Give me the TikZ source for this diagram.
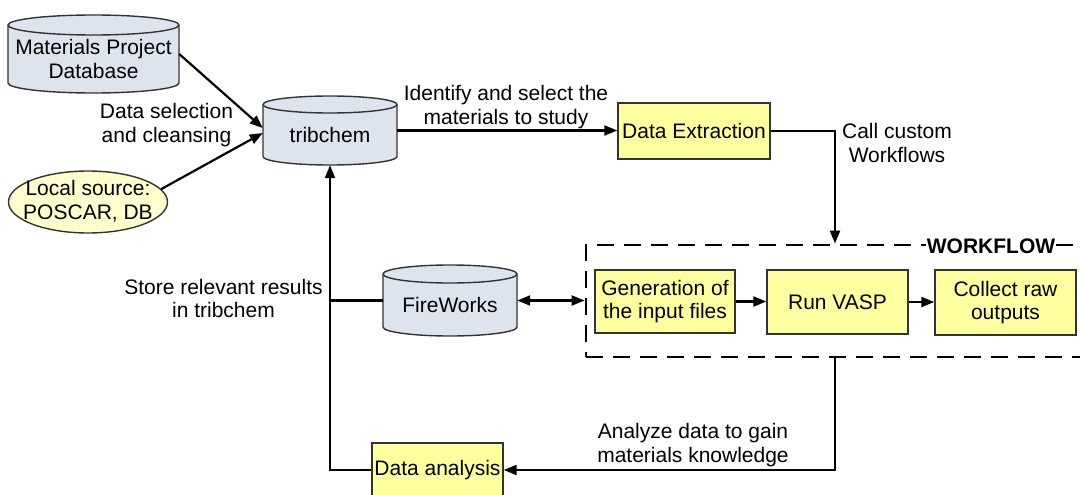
\documentclass[tikz,border=0pt]{standalone}
\usepackage{fontspec}
\setmainfont{Liberation Sans}
\usetikzlibrary{arrows.meta,shapes.geometric,calc}
\definecolor{cylfill}{HTML}{DDE4EE}
\definecolor{boxfill}{HTML}{FFFF9F}
\definecolor{ellfill}{HTML}{FFFFCC}
\definecolor{edgecol}{HTML}{333333}
\tikzset{
  x=1pt, y=1pt,
  every node/.style={font=\fontsize{21}{23.5}\selectfont, text=black},
  yellowbox/.style={draw=edgecol, line width=1.4pt, fill=boxfill, inner sep=0pt, align=center},
  cylbody/.style={draw=edgecol, line width=1.4pt, fill=cylfill},
  cylanchor/.style={inner sep=0pt, draw=none},
  conn/.style={line width=2.2pt, black},
  arr/.style={conn, -{Triangle[length=13pt,width=10pt]}},
  darr/.style={conn, {Triangle[length=13pt,width=10pt]}-{Triangle[length=13pt,width=10pt]}},
  lbl/.style={align=center, inner sep=0pt},
}
% name, cx, cy (pixels down), half width, half height, ellipse radius, text, text shift
\newcommand{\mycyl}[8]{%
  \path[cylbody] ({#2-#4},{-#3+#5-#6}) -- ({#2-#4},{-#3-#5+#6})
     arc[start angle=180, end angle=360, x radius=#4, y radius=#6]
     -- ({#2+#4},{-#3+#5-#6})
     arc[start angle=0, end angle=180, x radius=#4, y radius=#6] -- cycle;
  \draw[edgecol, line width=1.4pt] ({#2-#4},{-#3+#5-#6})
     arc[start angle=180, end angle=360, x radius=#4, y radius=#6];
  \node[cylanchor, minimum width={2*#4}, minimum height={2*#5}] (#1) at (#2,-#3) {};
  \node[lbl] (#1-text) at ({#2},{-#3-#8}) {#7};
}
\begin{document}
\begin{tikzpicture}
\useasboundingbox (0,0) rectangle (1080,-495);

% cylinders
\mycyl{mp}{93.5}{54}{85.5}{39}{10}{Materials Project\\Database}{5}
\mycyl{trib}{330}{130.5}{67}{34.5}{8.5}{tribchem}{4.5}
\mycyl{fw}{450}{300.5}{67}{35.5}{9}{FireWorks}{4.5}

% local source
\node[ellipse, draw=edgecol, line width=1.4pt, fill=ellfill, minimum width=159pt,
      minimum height=62pt, inner sep=0pt] (local) at (88,-202) {};
\node[lbl] (local-text) at (88,-201) {Local source:\\POSCAR, DB};

% yellow boxes
\node[yellowbox, minimum width=152pt, minimum height=56pt] (dext) at (694,-131) {Data Extraction};
\node[yellowbox, minimum width=131pt, minimum height=54pt] (dan) at (437.5,-470) {Data analysis};

% workflow container
\node[draw=black, line width=2.8pt, dash pattern=on 17pt off 10pt,
      minimum width=498pt, minimum height=112pt, inner sep=0pt] (wf) at (835,-301) {};
\node[fill=white, inner sep=1pt, font=\bfseries\fontsize{21}{23.5}\selectfont] (wflabel) at (991,-246) {WORKFLOW};

\node[yellowbox, minimum width=140pt, minimum height=63pt] (gen) at (665,-301.5) {Generation of\\the input files};
\node[yellowbox, minimum width=141pt, minimum height=64pt] (vasp) at (837.5,-302) {Run VASP};
\node[yellowbox, minimum width=141pt, minimum height=65pt] (coll) at (1005.5,-302.5) {Collect raw\\outputs};

% connectors
\draw[arr] (mp.east) -- ([yshift=2.5pt]trib.west);
\draw[arr] (local.10) -- ([yshift=-2.5pt]trib.west);
\draw[arr] (trib.east) -- (trib.east -| dext.west);
\draw[arr] (dext.east) -| (wf.north);
\draw[arr] (wf.south) |- (dan.east);
\draw[arr] (dan.west) -| (trib.south);
\draw[conn] (fw.west) -- (fw.west -| trib.south);
\draw[darr] (fw.east) -- (fw.east -| wf.west);
\draw[arr] (gen.east) -- (gen.east -| vasp.west);
\draw[arr] (vasp.east) -- (vasp.east -| coll.west);

% labels
\node[lbl] (l1) at (166.5,-125) {Data selection\\and cleansing};
\node[lbl] (l2) at (506,-107) {Identify and select the\\materials to study};
\node[lbl] (l3) at (897,-143) {Call custom\\Workflows};
\node[lbl] (l4) at (223.5,-298.5) {Store relevant results\\in tribchem};
\node[lbl] (l5) at (693,-445) {Analyze data to gain\\materials knowledge};
\end{tikzpicture}
\end{document}
